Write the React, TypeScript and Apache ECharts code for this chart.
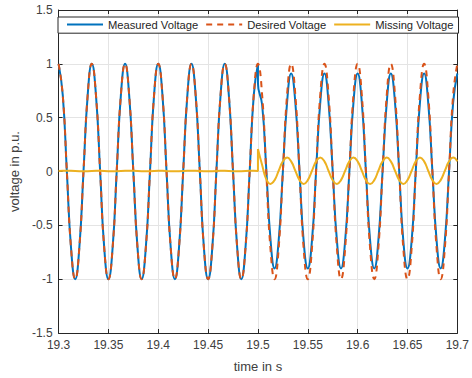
import React, { useEffect, useRef } from "react";
import * as echarts from "echarts";

// time samples (s), every 1/240 s
const time = [
  19.3, 19.3042, 19.3083, 19.3125, 19.3167, 19.3208, 19.325, 19.3292,
  19.3333, 19.3375, 19.3417, 19.3458, 19.35, 19.3542, 19.3583, 19.3625,
  19.3667, 19.3708, 19.375, 19.3792, 19.3833, 19.3875, 19.3917, 19.3958,
  19.4, 19.4042, 19.4083, 19.4125, 19.4167, 19.4208, 19.425, 19.4292,
  19.4333, 19.4375, 19.4417, 19.4458, 19.45, 19.4542, 19.4583, 19.4625,
  19.4667, 19.4708, 19.475, 19.4792, 19.4833, 19.4875, 19.4917, 19.4958,
  19.5, 19.5042, 19.5083, 19.5125, 19.5167, 19.5208, 19.525, 19.5292,
  19.5333, 19.5375, 19.5417, 19.5458, 19.55, 19.5542, 19.5583, 19.5625,
  19.5667, 19.5708, 19.575, 19.5792, 19.5833, 19.5875, 19.5917, 19.5958,
  19.6, 19.6042, 19.6083, 19.6125, 19.6167, 19.6208, 19.625, 19.6292,
  19.6333, 19.6375, 19.6417, 19.6458, 19.65, 19.6542, 19.6583, 19.6625,
  19.6667, 19.6708, 19.675, 19.6792, 19.6833, 19.6875, 19.6917, 19.6958,
  19.7,
];

// Desired voltage at every sample
const desired = [
  1, 0.71, 0, -0.71, -1, -0.71, 0, 0.71,
  1, 0.71, 0, -0.71, -1, -0.71, 0, 0.71,
  1, 0.71, 0, -0.71, -1, -0.71, 0, 0.71,
  1, 0.71, 0, -0.71, -1, -0.71, 0, 0.71,
  1, 0.71, 0, -0.71, -1, -0.71, 0, 0.71,
  1, 0.71, 0, -0.71, -1, -0.71, 0, 0.71,
  1, 0.71, 0, -0.71, -1, -0.71, 0, 0.71,
  1, 0.71, 0, -0.71, -1, -0.71, 0, 0.71,
  1, 0.71, 0, -0.71, -1, -0.71, 0, 0.71,
  1, 0.71, 0, -0.71, -1, -0.71, 0, 0.71,
  1, 0.71, 0, -0.71, -1, -0.71, 0, 0.71,
  1, 0.71, 0, -0.71, -1, -0.71, 0, 0.71,
  1,
];

// Measured voltage, samples 0..47 (before 19.5 s)
const measuredBefore = [
  1, 0.71, 0, -0.71, -1, -0.71, 0, 0.71,
  1, 0.71, 0, -0.71, -1, -0.71, 0, 0.71,
  1, 0.71, 0, -0.71, -1, -0.71, 0, 0.71,
  1, 0.71, 0, -0.71, -1, -0.71, 0, 0.71,
  1, 0.71, 0, -0.71, -1, -0.71, 0, 0.71,
  1, 0.71, 0, -0.71, -1, -0.71, 0, 0.71,
];
// Measured voltage at 19.5 s: value before and after the step
const measuredStep = [1, 0.82];
// Measured voltage, samples 49..96 (after 19.5 s)
const measuredAfter = [
  0.62, 0.03, -0.62, -0.9, -0.64, 0, 0.64,
  0.91, 0.64, 0, -0.64, -0.9, -0.64, 0, 0.64,
  0.91, 0.64, 0, -0.64, -0.9, -0.64, 0, 0.64,
  0.91, 0.64, 0, -0.64, -0.9, -0.64, 0, 0.64,
  0.91, 0.64, 0, -0.64, -0.9, -0.64, 0, 0.64,
  0.91, 0.64, 0, -0.64, -0.9, -0.64, 0, 0.64,
  0.91,
];

// Missing voltage, samples 0..47 (before 19.5 s)
const missingBefore = [
  0.004, 0.006, 0.007, 0.006, 0.004, 0.002, 0.002, 0.003,
  0.005, 0.007, 0.007, 0.005, 0.003, 0.002, 0.002, 0.004,
  0.006, 0.007, 0.006, 0.004, 0.002, 0.002, 0.003, 0.005,
  0.007, 0.007, 0.005, 0.003, 0.002, 0.002, 0.004, 0.006,
  0.007, 0.006, 0.004, 0.002, 0.002, 0.003, 0.005, 0.007,
  0.007, 0.005, 0.003, 0.002, 0.002, 0.004, 0.006, 0.007,
];
// Missing voltage at 19.5 s: before and after the jump
const missingStep = [0.005, 0.21];
// Missing voltage, samples 49..96
const missingAfter = [
  0.06, -0.07, -0.115, -0.08, 0.007, 0.094, 0.13,
  0.094, 0.007, -0.08, -0.116, -0.08, 0.007, 0.094, 0.13,
  0.094, 0.007, -0.08, -0.116, -0.08, 0.007, 0.094, 0.13,
  0.094, 0.007, -0.08, -0.116, -0.08, 0.007, 0.094, 0.13,
  0.094, 0.007, -0.08, -0.116, -0.08, 0.007, 0.094, 0.13,
  0.094, 0.007, -0.08, -0.116, -0.08, 0.007, 0.094, 0.13,
  0.094,
];

const seriesNames = ["Measured Voltage", "Desired Voltage", "Missing Voltage"];
const xTicks = { min: 19.3, max: 19.7, interval: 0.05 };
const yTicks = { min: -1.5, max: 1.5, interval: 0.5 };

const FONT = "'Liberation Sans', Arial, Helvetica, sans-serif";
const AXIS = "#262626";
const TEXT = "#404040";
const GRID = "#e4e4e4";
const BLUE = "#0072BD";
const ORANGE = "#D95319";
const YELLOW = "#EDB120";

const zip = (xs: number[], ys: number[]) => ys.map((y, i) => [xs[i], y]);

export default function App() {
  const ref = useRef<HTMLDivElement>(null);
  useEffect(() => {
    if (!ref.current) return;
    const chart = echarts.init(ref.current, null, { renderer: "svg" });
    const tStep = time[48];

    const measuredA = [...zip(time.slice(0, 48), measuredBefore), [tStep, measuredStep[0]]];
    const measuredB = [
      [tStep, measuredStep[0]],
      [tStep, measuredStep[1]],
      ...zip(time.slice(49), measuredAfter),
    ];
    const desiredData = zip(time, desired);
    const missingA = [
      ...zip(time.slice(0, 48), missingBefore),
      [tStep, missingStep[0]],
      [tStep, missingStep[1]],
    ];
    const missingB = [[tStep, missingStep[1]], ...zip(time.slice(49), missingAfter)];

    const axisLine = { show: true, onZero: false, lineStyle: { color: AXIS, width: 1 } };
    const axisTick = { show: true, inside: true, length: 4, lineStyle: { color: AXIS } };
    const fmt = (v: number) => String(parseFloat(v.toFixed(2)));

    chart.setOption({
      animation: false,
      textStyle: { fontFamily: FONT },
      grid: { left: 55, right: 9, top: 10, bottom: 45, containLabel: false },
      legend: {
        data: seriesNames,
        left: 58,
        top: 17,
        orient: "horizontal",
        padding: [2, 5, 3, 8],
        itemGap: 7,
        itemWidth: 36,
        itemHeight: 14,
        itemStyle: { opacity: 0 },
        backgroundColor: "#ffffff",
        borderColor: AXIS,
        borderWidth: 1,
        borderRadius: 0,
        textStyle: { fontFamily: FONT, fontSize: 11.2, color: AXIS },
      },
      xAxis: [
        {
          type: "value",
          position: "bottom",
          ...xTicks,
          axisLine,
          axisTick,
          axisLabel: { color: TEXT, fontSize: 12, margin: 6, formatter: fmt, fontFamily: FONT },
          splitLine: { show: true, lineStyle: { color: GRID, width: 1 } },
          name: "time in s",
          nameLocation: "middle",
          nameGap: 27,
          nameTextStyle: { color: TEXT, fontSize: 13, fontFamily: FONT },
        },
        {
          type: "value",
          position: "top",
          ...xTicks,
          axisLine,
          axisTick,
          axisLabel: { show: false },
          splitLine: { show: false },
        },
      ],
      yAxis: [
        {
          type: "value",
          position: "left",
          ...yTicks,
          axisLine,
          axisTick,
          axisLabel: { color: TEXT, fontSize: 12, margin: 6, formatter: fmt, fontFamily: FONT },
          splitLine: { show: true, lineStyle: { color: GRID, width: 1 } },
          name: "voltage in p.u.",
          nameLocation: "middle",
          nameGap: 33,
          nameTextStyle: { color: TEXT, fontSize: 13, fontFamily: FONT },
        },
        {
          type: "value",
          position: "right",
          ...yTicks,
          axisLine,
          axisTick,
          axisLabel: { show: false },
          splitLine: { show: false },
        },
      ],
      series: [
        {
          name: seriesNames[0],
          type: "line",
          data: measuredA,
          smooth: true,
          symbol: "none",
          itemStyle: { color: BLUE },
          lineStyle: { color: BLUE, width: 2 },
          z: 2,
        },
        {
          name: seriesNames[0],
          type: "line",
          data: measuredB,
          smooth: true,
          symbol: "none",
          itemStyle: { color: BLUE },
          lineStyle: { color: BLUE, width: 2 },
          z: 2,
        },
        {
          name: seriesNames[1],
          type: "line",
          data: desiredData,
          smooth: true,
          symbol: "none",
          itemStyle: { color: ORANGE },
          lineStyle: { color: ORANGE, width: 2, type: [6, 5] },
          z: 3,
        },
        {
          name: seriesNames[2],
          type: "line",
          data: missingA,
          smooth: false,
          symbol: "none",
          itemStyle: { color: YELLOW },
          lineStyle: { color: YELLOW, width: 2 },
          z: 4,
        },
        {
          name: seriesNames[2],
          type: "line",
          data: missingB,
          smooth: true,
          symbol: "none",
          itemStyle: { color: YELLOW },
          lineStyle: { color: YELLOW, width: 2 },
          z: 4,
        },
      ],
    });
    return () => chart.dispose();
  }, []);

  return (
    <div
      ref={ref}
      style={{ position: "absolute", left: 0, top: 0, width: 472, height: 378, background: "#fff" }}
    />
  );
}
